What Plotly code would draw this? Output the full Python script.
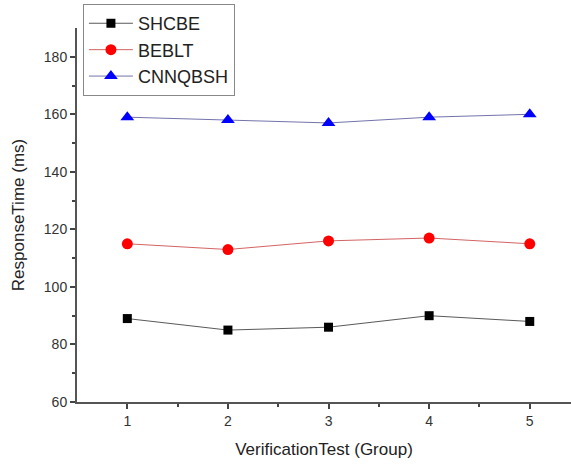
import plotly.graph_objects as go

groups = [1, 2, 3, 4, 5]
shcbe = [89, 85, 86, 90, 88]
beblt = [115, 113, 116, 117, 115]
cnnqbsh = [159, 158, 157, 159, 160]

series = [
    ("SHCBE", shcbe, "#000000", "rgba(60,60,60,0.85)", "square", 9),
    ("BEBLT", beblt, "#ff0000", "rgba(200,60,60,0.8)", "circle", 11),
    ("CNNQBSH", cnnqbsh, "#0000ff", "rgba(80,80,150,0.8)", "triangle-up", 12),
]

fig = go.Figure()
for name, vals, mc, lc, sym, sz in series:
    fig.add_trace(go.Scatter(
        x=groups, y=vals, name=name, mode="lines+markers",
        line=dict(color=lc, width=1),
        marker=dict(color=mc, symbol=sym, size=sz, line=dict(width=0)),
    ))

axis_common = dict(
    showline=True, linecolor="#555555", linewidth=2,
    ticks="outside", ticklen=5, tickwidth=1.5, tickcolor="#444444",
    showgrid=False, zeroline=False, automargin=False,
    tickfont=dict(family="Liberation Sans, Arial", size=14, color="#333333"),
    title_font=dict(family="Liberation Sans, Arial", size=17, color="#222222"),
)

fig.update_layout(
    width=571, height=465,
    margin=dict(l=77, r=0, t=28, b=63, autoexpand=False),
    paper_bgcolor="white", plot_bgcolor="white",
    showlegend=True,
    legend=dict(
        x=0.012, y=1.064, xanchor="left", yanchor="top",
        bordercolor="#888888", borderwidth=1, bgcolor="white",
        font=dict(family="Liberation Sans, Arial", size=18, color="#222222"),
        tracegroupgap=0, itemsizing="trace", itemwidth=44,
    ),
    xaxis=dict(
        range=[0.5, 5.41], tickvals=groups,
        minor=dict(tickvals=[1.5, 2.5, 3.5, 4.5], ticks="outside", ticklen=3, tickcolor="#444444"),
        title=dict(text="VerificationTest (Group)"),
        **axis_common,
    ),
    yaxis=dict(
        range=[60, 190], tickvals=[60, 80, 100, 120, 140, 160, 180],
        minor=dict(tickvals=[70, 90, 110, 130, 150, 170], ticks="outside", ticklen=3, tickcolor="#444444"),
        title=dict(text="ResponseTime (ms)"),
        **axis_common,
    ),
)

fig.write_html(
    "out.html",
    config={"displayModeBar": False},
    post_script=(
        "document.body.style.margin='0';document.body.style.padding='0';"
        "document.body.style.overflow='hidden';"
        "document.documentElement.style.overflow='hidden';"
    ),
)
